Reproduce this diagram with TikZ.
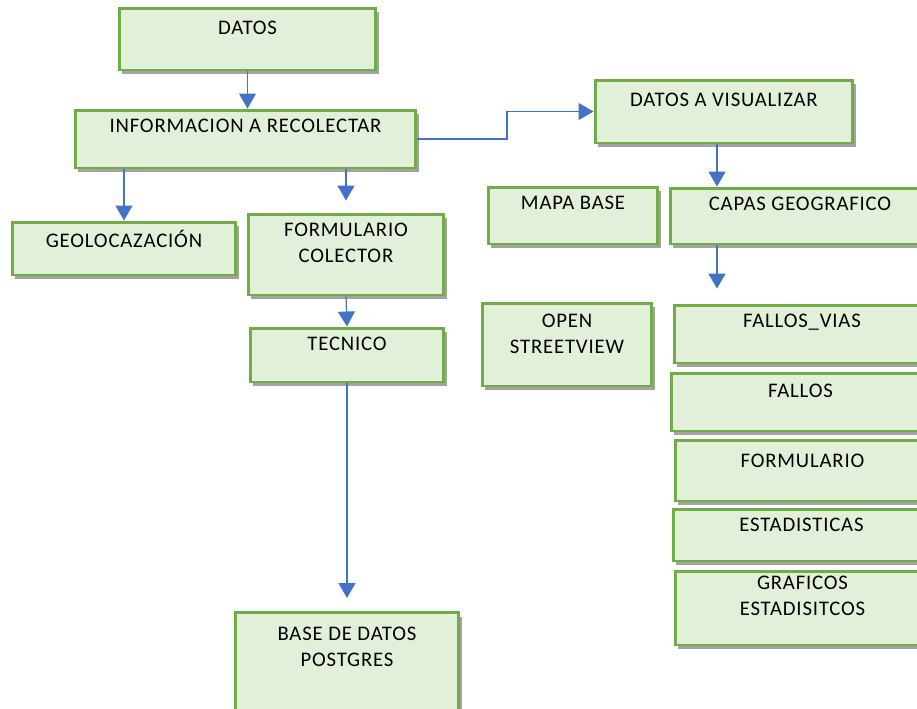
\documentclass[tikz,border=0pt]{standalone}
\usepackage{fontspec}
\setmainfont[LetterSpace=4]{Carlito}
\usetikzlibrary{arrows.meta, shadows}
\definecolor{verdeclaro}{HTML}{E2EFD9}
\definecolor{verdeborde}{HTML}{70AD47}
\definecolor{azulflecha}{HTML}{4472C4}
\tikzset{
  caja/.style={draw=verdeborde, fill=verdeclaro, line width=1.7pt,
    drop shadow={shadow xshift=0.06cm, shadow yshift=-0.08cm, fill=black!80, opacity=0.45}},
  etiqueta/.style={anchor=north, inner sep=0pt, yshift=-0.2cm, align=center,
    text=black, font=\fontsize{11.8}{14.8}\selectfont},
  flecha/.style={->, azulflecha, line width=0.7pt}
}

\begin{document}
\begin{tikzpicture}[x=0.02cm, y=-0.02cm, >={Triangle[width=0.34cm, length=0.3cm]}]
    \useasboundingbox (0,0) rectangle (917,708);
    \clip (0,0) rectangle (917,708);
    % columna izquierda
    \node[caja, minimum width=5.14cm, minimum height=1.24cm, label={[etiqueta, yshift=-0.08cm]north:DATOS}] (datos) at (247.5,39) {};
    \node[caja, minimum width=6.82cm, minimum height=1.16cm, label={[etiqueta]north:INFORMACION A RECOLECTAR}] (info) at (245.5,139) {};
    \node[caja, minimum width=4.48cm, minimum height=1.06cm, label={[etiqueta, yshift=0.02cm]north:GEOLOCAZACIÓN}] (geo) at (124,248.5) {};
    \node[caja, minimum width=3.92cm, minimum height=1.62cm, label={[etiqueta]north:FORMULARIO\\COLECTOR}] (form) at (346,254.5) {};
    \node[caja, minimum width=3.88cm, minimum height=1.08cm, label={[etiqueta]north:TECNICO}] (tec) at (347,355) {};
    \node[caja, minimum width=4.48cm, minimum height=2.06cm, label={[etiqueta, yshift=-0.12cm]north:BASE DE DATOS\\POSTGRES}] (base) at (347,664) {};
    % columna derecha
    \node[caja, minimum width=5.16cm, minimum height=1.26cm, label={[etiqueta, yshift=-0.08cm]north:DATOS A VISUALIZAR}] (visual) at (724,111.5) {};
    \node[caja, minimum width=3.40cm, minimum height=1.14cm, label={[etiqueta]north:MAPA BASE}] (mapa) at (573,215.5) {};
    \node[caja, minimum width=5.20cm, minimum height=1.12cm, label={[etiqueta]north:CAPAS GEOGRAFICO}] (capas) at (800,216) {};
    \node[caja, minimum width=3.40cm, minimum height=1.66cm, label={[etiqueta, yshift=-0.04cm]north:OPEN\\STREETVIEW}] (open) at (567,344.5) {};
    \node[caja, minimum width=5.12cm, minimum height=1.16cm, label={[etiqueta]north:FALLOS\_VIAS}] (fallosvias) at (802,334) {};
    \node[caja, minimum width=5.18cm, minimum height=1.16cm, label={[etiqueta, yshift=-0.04cm]north:FALLOS}] (fallos) at (800.5,402) {};
    \node[caja, minimum width=5.10cm, minimum height=1.22cm, label={[etiqueta, yshift=-0.1cm]north:FORMULARIO}] (formulario) at (802.5,470.5) {};
    \node[caja, minimum width=5.14cm, minimum height=1.04cm, label={[etiqueta]north:ESTADISTICAS}] (estad) at (801.5,535) {};
    \node[caja, minimum width=5.10cm, minimum height=1.48cm, label={[etiqueta, yshift=0.08cm]north:GRAFICOS\\ESTADISITCOS}] (graficos) at (802.5,608) {};

    \coordinate (codo) at (507,0);
    \coordinate (eje) at ([xshift=-0.14cm]visual.south);

    \draw[flecha] (datos.south) -- (datos.south |- info.north);
    \draw[flecha] (info.south -| geo.north) -- (geo.north);
    \draw[flecha, shorten >=0.24cm] (info.south -| form.north) -- (form.north);
    \draw[flecha] (form.south) -- (tec.north);
    \draw[flecha, shorten >=0.26cm] (tec.south) -- (base.north);
    \draw[flecha] (info.east) -- (info.east -| codo) -- (visual.west -| codo) -- (visual.west);
    \draw[flecha] (eje) -- (eje |- capas.north);
    \draw[flecha, shorten >=0.3cm] (capas.south -| eje) -- (fallosvias.north -| eje);
\end{tikzpicture}
\end{document}
